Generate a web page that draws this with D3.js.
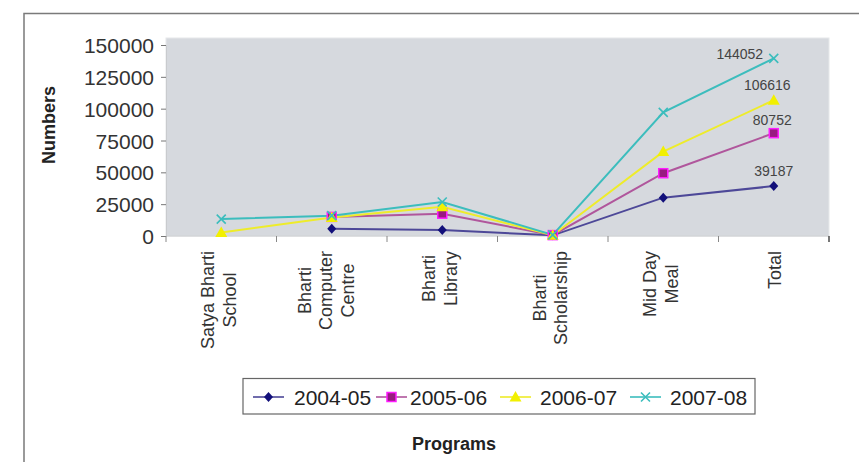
<!DOCTYPE html>
<html>
<head>
<meta charset="utf-8">
<script src="https://cdn.jsdelivr.net/npm/d3@7"></script>
<style>
  body { margin: 0; background: #fff; }
  svg { display: block; font-family: "Liberation Sans", Arial, sans-serif; }
</style>
</head>
<body>
<svg id="chart" width="859" height="462"></svg>
<script>
// ---- data ----
const categories = [
    ["Satya Bharti", "School"],
    ["Bharti", "Computer", "Centre"],
    ["Bharti", "Library"],
    ["Bharti", "Scholarship"],
    ["Mid Day", "Meal"],
    ["Total"]
];
const seriesNames = ["2004-05", "2005-06", "2006-07", "2007-08"];
const values2004 = [null, 5700, 4700, 500, 30100, 39187];
const values2005 = [null, 15000, 17500, 700, 49300, 80752];
const values2006 = [2800, 14500, 23000, 600, 66300, 106616];
const values2007 = [13300, 16000, 26700, 900, 97100, 139500];
const totalLabels = ["39187", "80752", "106616", "144052"];
const yTicks = [0, 25000, 50000, 75000, 100000, 125000, 150000];

const seriesValues = [values2004, values2005, values2006, values2007];

// colours / marker styles per series
const lineColors = ["#4d4898", "#b0569c", "#eeec2a", "#3cbdbd"];
const markerTypes = ["diamond", "square", "triangle", "cross"];

const svg = d3.select("#chart");

// outer frame (top + left only)
svg.append("path")
    .attr("d", "M24,462 L24,13.5 L859,13.5")
    .attr("fill", "none")
    .attr("stroke", "#7a7a7a")
    .attr("stroke-width", 1.5);

const plot = { left: 166, right: 829, top: 38, bottom: 236 };

const x = d3.scaleBand()
    .domain(d3.range(categories.length))
    .range([plot.left, plot.right]);

const y = d3.scaleLinear()
    .domain([0, 150000])
    .range([plot.bottom, 45]);

// gray plot background
svg.append("rect")
    .attr("x", plot.left)
    .attr("y", plot.top)
    .attr("width", plot.right - plot.left)
    .attr("height", plot.bottom - plot.top)
    .attr("fill", "#d6d9de")
    .attr("stroke", "#e6e8ea");

// ===========================================================
// AXES
// ===========================================================
const yAxis = svg.append("g")
    .attr("transform", `translate(${plot.left},0)`)
    .call(d3.axisLeft(y).tickValues(yTicks).tickSize(5).tickPadding(7).tickFormat(d => d));
yAxis.select(".domain").attr("stroke", "#c9cbce");
yAxis.selectAll(".tick line").attr("stroke", "#777");
yAxis.selectAll(".tick text")
    .attr("fill", "#333")
    .style("font-size", "21px")
    .attr("dy", "0.36em");

const xAxis = svg.append("g")
    .attr("transform", `translate(0,${plot.bottom})`);
xAxis.append("line")
    .attr("x1", plot.left).attr("x2", plot.right)
    .attr("stroke", "#c9cbce");
const edges = d3.range(categories.length + 1).map(i => plot.left + i * x.bandwidth());
xAxis.selectAll("line.tick")
    .data(edges)
    .join("line")
    .attr("class", "tick")
    .attr("x1", d => d).attr("x2", d => d)
    .attr("y1", 0).attr("y2", 6)
    .attr("stroke", (d, i) => i === edges.length - 1 ? "#555" : "#888")
    .attr("stroke-width", (d, i) => i === edges.length - 1 ? 1.6 : 1);

// rotated multi-line category labels
const catFont = 18, linePitch = 21.5;
categories.forEach((lines, i) => {
    const cx = x(i) + x.bandwidth() / 2;
    const g = svg.append("g");
    const t = g.append("text")
        .attr("text-anchor", "middle")
        .attr("fill", "#333")
        .style("font-size", catFont + "px");
    const y0 = 7 - 14 * (lines.length - 1);
    lines.forEach((ln, k) => {
        t.append("tspan").attr("x", 0).attr("y", y0 + k * linePitch).text(ln);
    });
    const maxW = d3.max(t.selectAll("tspan").nodes(), n => n.getComputedTextLength());
    g.attr("transform", `translate(${cx},${251 + maxW / 2}) rotate(-90)`);
});

// axis titles
svg.append("text")
    .attr("transform", "translate(55,125) rotate(-90)")
    .attr("text-anchor", "middle")
    .attr("fill", "#222")
    .style("font-size", "18px")
    .style("font-weight", "bold")
    .text("Numbers");

svg.append("text")
    .attr("x", 454).attr("y", 450)
    .attr("text-anchor", "middle")
    .attr("fill", "#222")
    .style("font-size", "18px")
    .style("font-weight", "bold")
    .text("Programs");

// ===========================================================
// LINES + MARKERS
// ===========================================================
function drawMarker(sel, type, color) {
    if (type === "diamond") {
        sel.append("path").attr("d", "M0,-5 L4.5,0 L0,5 L-4.5,0 Z").attr("fill", "#12107a");
    } else if (type === "square") {
        sel.append("rect").attr("x", -4.5).attr("y", -4.5).attr("width", 9).attr("height", 9)
            .attr("fill", "#981b80").attr("stroke", "#ff1cff").attr("stroke-width", 1.5);
    } else if (type === "triangle") {
        sel.append("path").attr("d", "M0,-6 L6,4.5 L-6,4.5 Z").attr("fill", "#f2f000");
    } else {
        sel.append("path").attr("d", "M-4.5,-4.5 L4.5,4.5 M-4.5,4.5 L4.5,-4.5")
            .attr("stroke", color).attr("stroke-width", 1.6).attr("fill", "none");
    }
}

const line = d3.line()
    .defined(d => d != null)
    .x((d, i) => x(i) + x.bandwidth() / 2)
    .y(d => y(d));

seriesValues.forEach((vals, s) => {
    svg.append("path")
        .datum(vals)
        .attr("fill", "none")
        .attr("stroke", lineColors[s])
        .attr("stroke-width", 2)
        .attr("d", line);
});

seriesValues.forEach((vals, s) => {
    vals.forEach((v, i) => {
        if (v == null) return;
        const g = svg.append("g")
            .attr("transform", `translate(${x(i) + x.bandwidth() / 2},${y(v)})`);
        drawMarker(g, markerTypes[s], lineColors[s]);
    });
});

// value labels on the Total point
const labelOffsets = [[0, -10], [-1.5, -8.5], [-6.5, -10], [-34, 1]];
const lastIdx = categories.length - 1;
seriesValues.forEach((vals, s) => {
    svg.append("text")
        .attr("x", x(lastIdx) + x.bandwidth() / 2 + labelOffsets[s][0])
        .attr("y", y(vals[lastIdx]) + labelOffsets[s][1])
        .attr("text-anchor", "middle")
        .attr("fill", "#444")
        .style("font-size", "14px")
        .text(totalLabels[s]);
});

// ===========================================================
// LEGEND
// ===========================================================
svg.append("rect")
    .attr("x", 243).attr("y", 378.5)
    .attr("width", 512).attr("height", 35.5)
    .attr("fill", "#fff")
    .attr("stroke", "#666")
    .attr("stroke-width", 1.2);

const legendX = [253, 376, 500, 630];
seriesNames.forEach((name, s) => {
    const g = svg.append("g").attr("transform", `translate(${legendX[s]},397)`);
    g.append("line").attr("x1", 0).attr("x2", 31)
        .attr("stroke", lineColors[s]).attr("stroke-width", 1.6);
    const m = g.append("g").attr("transform", "translate(15.5,0)");
    drawMarker(m, markerTypes[s], lineColors[s]);
    g.append("text")
        .attr("x", s === 0 ? 41 : s === 1 ? 34 : 40)
        .attr("y", 7.5)
        .attr("fill", "#222")
        .style("font-size", "21px")
        .text(name);
});
</script>
</body>
</html>
